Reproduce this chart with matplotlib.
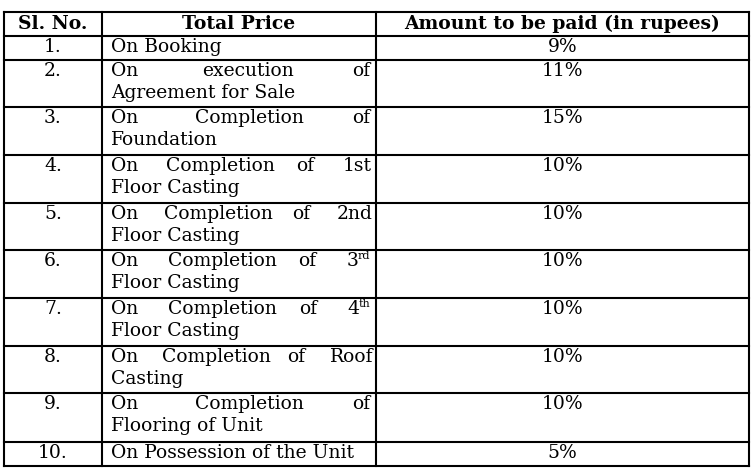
import matplotlib.pyplot as plt

# table contents
headers = ['Sl. No.', 'Total Price', 'Amount to be paid (in rupees)']
sl_no = ['1.', '2.', '3.', '4.', '5.', '6.', '7.', '8.', '9.', '10.']
# each stage: list of lines; first line of two-line cells is justified
stages = [
    ['On Booking'],
    ['On execution of', 'Agreement for Sale'],
    ['On Completion of', 'Foundation'],
    ['On Completion of 1st', 'Floor Casting'],
    ['On Completion of 2nd', 'Floor Casting'],
    ['On Completion of 3^rd', 'Floor Casting'],
    ['On Completion of 4^th', 'Floor Casting'],
    ['On Completion of Roof', 'Casting'],
    ['On Completion of', 'Flooring of Unit'],
    ['On Possession of the Unit'],
]
amounts = ['9%', '11%', '15%', '10%', '10%', '10%', '10%', '10%', '10%', '5%']

row_lines = [12, 36, 60, 107, 155, 203, 250, 298, 346, 393, 442, 466]
col_lines = [4, 102, 376, 749]

FONT = 'DejaVu Serif'
FS = 13.5

fig = plt.figure(figsize=(7.53, 4.73), dpi=100)
ax = fig.add_axes([0, 0, 1, 1])
ax.set_xlim(0, 753)
ax.set_ylim(473, 0)
ax.axis('off')

for y in row_lines:
    ax.plot([col_lines[0], col_lines[-1]], [y, y], color='black', lw=1.5)
for x in col_lines:
    ax.plot([x, x], [row_lines[0], row_lines[-1]], color='black', lw=1.5)

fig.canvas.draw()
renderer = fig.canvas.get_renderer()


def width_of(s, size=FS):
    t = ax.text(0, 0, s, fontsize=size, family=FONT, fontstretch='condensed')
    w = t.get_window_extent(renderer).width
    t.remove()
    return w


def draw_word(x, y, word):
    if '^' in word:
        base, sup = word.split('^')
        ax.text(x, y, base, fontsize=FS, family=FONT, va='center')
        ax.text(x + width_of(base), y - 5, sup, fontsize=FS * 0.6, family=FONT, va='center')
    else:
        ax.text(x, y, word, fontsize=FS, family=FONT, va='center')


def word_w(word):
    if '^' in word:
        base, sup = word.split('^')
        return width_of(base) + width_of(sup, FS * 0.6)
    return width_of(word)


# header
hy = (row_lines[0] + row_lines[1]) / 2
for i, h in enumerate(headers):
    cx = (col_lines[i] + col_lines[i + 1]) / 2
    ax.text(cx, hy, h, fontsize=FS, family=FONT, weight='bold', ha='center', va='center')

left = col_lines[1] + 9
right = col_lines[2] - 7
for r in range(len(sl_no)):
    top = row_lines[r + 1]
    y1 = top + 11
    ax.text((col_lines[0] + col_lines[1]) / 2, y1, sl_no[r], fontsize=FS, family=FONT, ha='center', va='center')
    ax.text((col_lines[2] + col_lines[3]) / 2, y1, amounts[r], fontsize=FS, family=FONT, ha='center', va='center')
    lines = stages[r]
    for j, line in enumerate(lines):
        y = y1 + j * 22
        words = line.split(' ')
        if j == 0 and len(lines) > 1:
            widths = [word_w(w) for w in words]
            gap = (right - left - sum(widths)) / (len(words) - 1)
            x = left
            for w, ww in zip(words, widths):
                draw_word(x, y, w)
                x += ww + gap
        else:
            ax.text(left, y, line, fontsize=FS, family=FONT, va='center')

fig.savefig('out.png', dpi=100)
